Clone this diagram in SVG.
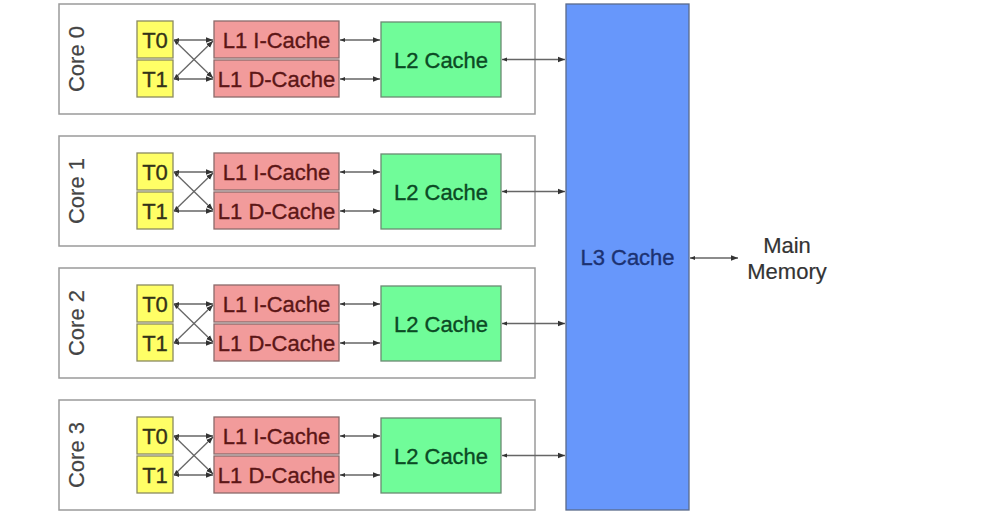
<svg xmlns="http://www.w3.org/2000/svg" width="992" height="518" viewBox="0 0 992 518">
<defs>
<style>
text{font-family:"Liberation Sans",Arial,sans-serif;font-size:22px;stroke-width:0.35}
.core{fill:#fff;stroke:#9a9a9a;stroke-width:1.5}
.t{fill:#ffff66;stroke:#8a8a60;stroke-width:1.3}
.l1{fill:#f29b9b;stroke:#8a6a6a;stroke-width:1.3}
.l2{fill:#70fc99;stroke:#6a8a72;stroke-width:1.3}
.l3{fill:#6797fb;stroke:#5a6a8a;stroke-width:1.3}
.tt{fill:#333318;stroke:#333318;text-anchor:middle}
.t1{fill:#5c1616;stroke:#5c1616;text-anchor:middle}
.t2{fill:#0b4a24;stroke:#0b4a24;text-anchor:middle}
.t3{fill:#1c3272;stroke:#1c3272;text-anchor:middle}
.lbl{fill:#444;stroke:#444;stroke-width:0.2;text-anchor:middle}
.mm{fill:#333;stroke:#333;stroke-width:0.2;text-anchor:middle}
.c{stroke:#666;stroke-width:1.3;fill:none;marker-end:url(#ah);marker-start:url(#as)}
</style>
<marker id="ah" viewBox="0 0 10 10" refX="10" refY="5" markerWidth="7" markerHeight="7" markerUnits="userSpaceOnUse" orient="auto"><path d="M0,1 L10,5 L0,9 z" fill="#333"/></marker>
<marker id="as" viewBox="0 0 10 10" refX="0" refY="5" markerWidth="5" markerHeight="5" markerUnits="userSpaceOnUse" orient="auto"><path d="M10,1 L0,5 L10,9 z" fill="#333"/></marker>
</defs>
<rect width="992" height="518" fill="#fff"/>

<g id="core0"><rect class="core" x="59" y="4" width="476" height="110"/><text class="lbl" transform="translate(84,59) rotate(-90)">Core 0</text></g>
<g id="core1"><rect class="core" x="59" y="136" width="476" height="110"/><text class="lbl" transform="translate(84,191) rotate(-90)">Core 1</text></g>
<g id="core2"><rect class="core" x="59" y="268" width="476" height="110"/><text class="lbl" transform="translate(84,323) rotate(-90)">Core 2</text></g>
<g id="core3"><rect class="core" x="59" y="400" width="476" height="110"/><text class="lbl" transform="translate(84,455) rotate(-90)">Core 3</text></g>

<g id="core0-t0"><rect class="t" x="137" y="21" width="36" height="37"/><text class="tt" x="155" y="47.5">T0</text></g>
<g id="core0-t1"><rect class="t" x="137" y="60" width="36" height="37"/><text class="tt" x="155" y="86.5">T1</text></g>
<g id="core0-l1i"><rect class="l1" x="214" y="21" width="125" height="37"/><text class="t1" x="276.5" y="47.5">L1 I-Cache</text></g>
<g id="core0-l1d"><rect class="l1" x="214" y="60" width="125" height="37"/><text class="t1" x="276.5" y="86.5">L1 D-Cache</text></g>
<g id="core0-l2"><rect class="l2" x="381" y="22" width="120" height="75"/><text class="t2" x="441" y="67.5">L2 Cache</text></g>

<g id="core1-t0"><rect class="t" x="137" y="153" width="36" height="37"/><text class="tt" x="155" y="179.5">T0</text></g>
<g id="core1-t1"><rect class="t" x="137" y="192" width="36" height="37"/><text class="tt" x="155" y="218.5">T1</text></g>
<g id="core1-l1i"><rect class="l1" x="214" y="153" width="125" height="37"/><text class="t1" x="276.5" y="179.5">L1 I-Cache</text></g>
<g id="core1-l1d"><rect class="l1" x="214" y="192" width="125" height="37"/><text class="t1" x="276.5" y="218.5">L1 D-Cache</text></g>
<g id="core1-l2"><rect class="l2" x="381" y="154" width="120" height="75"/><text class="t2" x="441" y="199.5">L2 Cache</text></g>

<g id="core2-t0"><rect class="t" x="137" y="285" width="36" height="37"/><text class="tt" x="155" y="311.5">T0</text></g>
<g id="core2-t1"><rect class="t" x="137" y="324" width="36" height="37"/><text class="tt" x="155" y="350.5">T1</text></g>
<g id="core2-l1i"><rect class="l1" x="214" y="285" width="125" height="37"/><text class="t1" x="276.5" y="311.5">L1 I-Cache</text></g>
<g id="core2-l1d"><rect class="l1" x="214" y="324" width="125" height="37"/><text class="t1" x="276.5" y="350.5">L1 D-Cache</text></g>
<g id="core2-l2"><rect class="l2" x="381" y="286" width="120" height="75"/><text class="t2" x="441" y="331.5">L2 Cache</text></g>

<g id="core3-t0"><rect class="t" x="137" y="417" width="36" height="37"/><text class="tt" x="155" y="443.5">T0</text></g>
<g id="core3-t1"><rect class="t" x="137" y="456" width="36" height="37"/><text class="tt" x="155" y="482.5">T1</text></g>
<g id="core3-l1i"><rect class="l1" x="214" y="417" width="125" height="37"/><text class="t1" x="276.5" y="443.5">L1 I-Cache</text></g>
<g id="core3-l1d"><rect class="l1" x="214" y="456" width="125" height="37"/><text class="t1" x="276.5" y="482.5">L1 D-Cache</text></g>
<g id="core3-l2"><rect class="l2" x="381" y="418" width="120" height="75"/><text class="t2" x="441" y="463.5">L2 Cache</text></g>

<g id="l3"><rect class="l3" x="566" y="4" width="123" height="506"/><text class="t3" x="627.5" y="265">L3 Cache</text></g>
<g id="memory"><text class="mm" x="787" y="253">Main</text><text class="mm" x="787" y="279">Memory</text></g>

<g id="connectors">
<path class="c" d="M174,40 H213"/><path class="c" d="M174,79 H213"/><path class="c" d="M174,40 L213,78"/><path class="c" d="M174,79 L213,41"/>
<path class="c" d="M340,40 H380"/><path class="c" d="M340,79 H380"/><path class="c" d="M502,59.5 H565"/>
<path class="c" d="M174,172 H213"/><path class="c" d="M174,211 H213"/><path class="c" d="M174,172 L213,210"/><path class="c" d="M174,211 L213,173"/>
<path class="c" d="M340,172 H380"/><path class="c" d="M340,211 H380"/><path class="c" d="M502,191.5 H565"/>
<path class="c" d="M174,304 H213"/><path class="c" d="M174,343 H213"/><path class="c" d="M174,304 L213,342"/><path class="c" d="M174,343 L213,305"/>
<path class="c" d="M340,304 H380"/><path class="c" d="M340,343 H380"/><path class="c" d="M502,323.5 H565"/>
<path class="c" d="M174,436 H213"/><path class="c" d="M174,475 H213"/><path class="c" d="M174,436 L213,474"/><path class="c" d="M174,475 L213,437"/>
<path class="c" d="M340,436 H380"/><path class="c" d="M340,475 H380"/><path class="c" d="M502,455.5 H565"/>
<path class="c" d="M690,258 H738"/>
</g>
</svg>
